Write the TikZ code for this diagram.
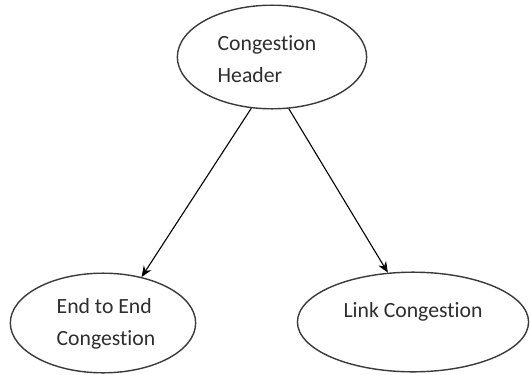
\documentclass[tikz,border=0pt]{standalone}
\usepackage{fontspec}
\setmainfont{Carlito}[Ligatures=NoCommon]
\usepackage{tikz}
\usetikzlibrary{shapes.geometric,arrows.meta}

\definecolor{rim}{HTML}{3A3A3A}
\definecolor{ink}{HTML}{2E2E2E}

\begin{document}
\begin{tikzpicture}[x=1bp,y=1bp]
\tikzstyle{bubble}=[ellipse, draw=rim, line width=1.4bp, inner sep=0pt, fill=white]
\tikzstyle{words}=[text=ink, font=\fontsize{21.8}{32}\selectfont, align=left, inner sep=0pt]
\tikzstyle{link arrow}=[draw=black, line width=1.1bp, -{Stealth[length=11bp,width=9bp]}]
\useasboundingbox (0,0) rectangle (530,374);
\fill[white] (0,0) rectangle (530,374);
% the three ellipses
\node[bubble, minimum width=190, minimum height=104] (head) at (272,317) {};
\node[words] (headtxt) at (267,315) {Congestion\\Header};
\node[bubble, minimum width=186, minimum height=100] (e2e) at (103,51) {};
\node[words] (e2etxt) at (106,50) {End to End\\Congestion};
\node[bubble, minimum width=232, minimum height=100] (link) at (413,52) {};
\node[words] (linktxt) at (413,62) {Link Congestion};
% arrows
\draw[link arrow] (head.248) -- (e2e.50);
\draw[link arrow] (head.288) -- (link.117);
\end{tikzpicture}
\end{document}
